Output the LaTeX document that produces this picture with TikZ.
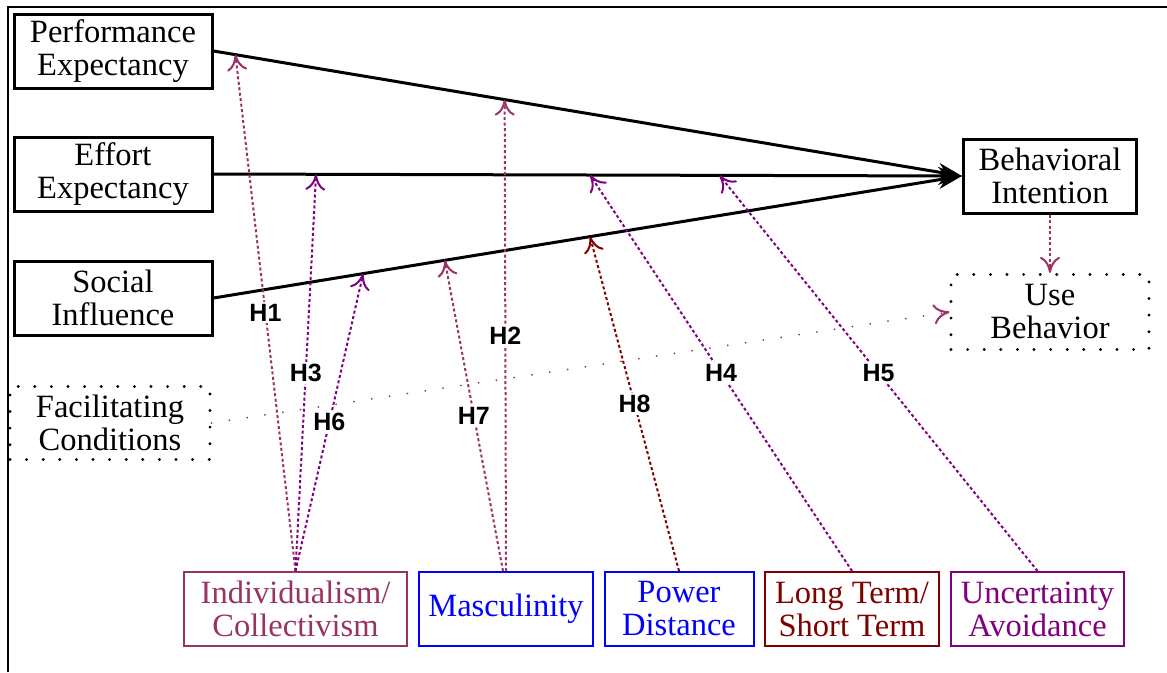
\documentclass[tikz,border=0pt]{standalone}
\usepackage{fontspec}
\setmainfont{Liberation Serif}
\setsansfont{Liberation Sans}
\newfontfamily\timesfam{Liberation Serif}
\newfontfamily\arialfam{Liberation Sans}[BoldFont={Liberation Sans Bold}]
\usetikzlibrary{arrows.meta}
\definecolor{cpink}{RGB}{153,51,102}
\definecolor{cpurple}{RGB}{128,0,128}
\definecolor{cblue}{RGB}{0,0,255}
\definecolor{cdark}{RGB}{128,0,0}
\tikzset{
  boxbase/.style={rectangle, inner sep=0pt, align=center, font=\timesfam\fontsize{32.5}{33}\selectfont},
  mainbox/.style={boxbase, draw=black, line width=3pt, minimum height=74pt},
  dotbox/.style={boxbase, draw=black, line width=3.2pt, line cap=round, dash pattern=on 0pt off 16.6pt, minimum height=73pt},
  modbox/.style={boxbase, draw=#1, text=#1, line width=2pt, minimum height=74pt},
  mainarrow/.style={line width=3pt, -{Stealth[length=24pt,width=18pt]}},
  modhead/.style={-{Computer Modern Rightarrow[length=16pt,width=20pt,line width=2pt]}},
  modarrow/.style={draw=#1, line width=2pt, dash pattern=on 3pt off 2.5pt, modhead},
  hlabel/.style={fill=white, text=black, inner sep=2pt, font=\arialfam\bfseries\fontsize{25}{25}\selectfont},
}
\begin{document}
\begin{tikzpicture}[x=1pt,y=-1pt]
\useasboundingbox (0,0) rectangle (1167,672);
\draw[line width=2.5pt] (8,672) -- (8,7) -- (1167,7);

\node[mainbox, minimum width=198pt] (PE) at (113,51) {Performance\\Expectancy};
\node[mainbox, minimum width=198pt] (EE) at (113,174) {Effort\\Expectancy};
\node[mainbox, minimum width=198pt] (SI) at (113,298) {Social\\Influence};
\node[dotbox, minimum width=200pt] (FC) at (110,423) {Facilitating\\Conditions};
\node[mainbox, minimum width=173pt] (BI) at (1050,176) {Behavioral\\Intention};
\node[dotbox, minimum width=198pt, minimum height=75pt] (UB) at (1050,312) {Use\\Behavior};

\node[modbox=cpink, minimum width=223pt] (IC) at (295.5,609) {Individualism/\\Collectivism};
\node[modbox=cblue, minimum width=174pt] (MA) at (506,609) {Masculinity};
\node[modbox=cblue, minimum width=149pt] (PD) at (679,609) {Power\\Distance};
\node[modbox=cdark, minimum width=174pt] (LT) at (852,609) {Long Term/\\Short Term};
\node[modbox=cpurple, minimum width=173pt] (UA) at (1037.5,609) {Uncertainty\\Avoidance};

\draw[mainarrow] (PE.east) -- (BI.west)
  coordinate[pos=0.0293] (pe1) coordinate[pos=0.389] (pe2);
\draw[mainarrow] (EE.east) -- (BI.west)
  coordinate[pos=0.137] (ee1) coordinate[pos=0.503] (ee2) coordinate[pos=0.676] (ee3);
\draw[mainarrow] (SI.east) -- (BI.west)
  coordinate[pos=0.2] (si1) coordinate[pos=0.309] (si2) coordinate[pos=0.503] (si3);

\draw[draw=cpink, line width=2pt, line cap=round, dash pattern=on 0pt off 18pt, modhead] (FC.east) -- (UB.west);
\draw[modarrow=cpink] (BI.south) -- (UB.north);

\draw[modarrow=cpink] (IC.north) -- node[hlabel] {H1} (pe1);
\draw[modarrow=cpurple] (IC.north) -- node[hlabel] {H3} (ee1);
\draw[modarrow=cpurple] (IC.north) -- node[hlabel] {H6} (si1);
\draw[modarrow=cpink] (MA.north) -- node[hlabel] {H2} (pe2);
\draw[modarrow=cpink] ([xshift=-3pt]MA.north) -- node[hlabel] {H7} (si2);
\draw[modarrow=cdark] (PD.north) -- node[hlabel] {H8} (si3);
\draw[modarrow=cpurple] (LT.north) -- node[hlabel] {H4} (ee2);
\draw[modarrow=cpurple] (UA.north) -- node[hlabel] {H5} (ee3);
\end{tikzpicture}
\end{document}
